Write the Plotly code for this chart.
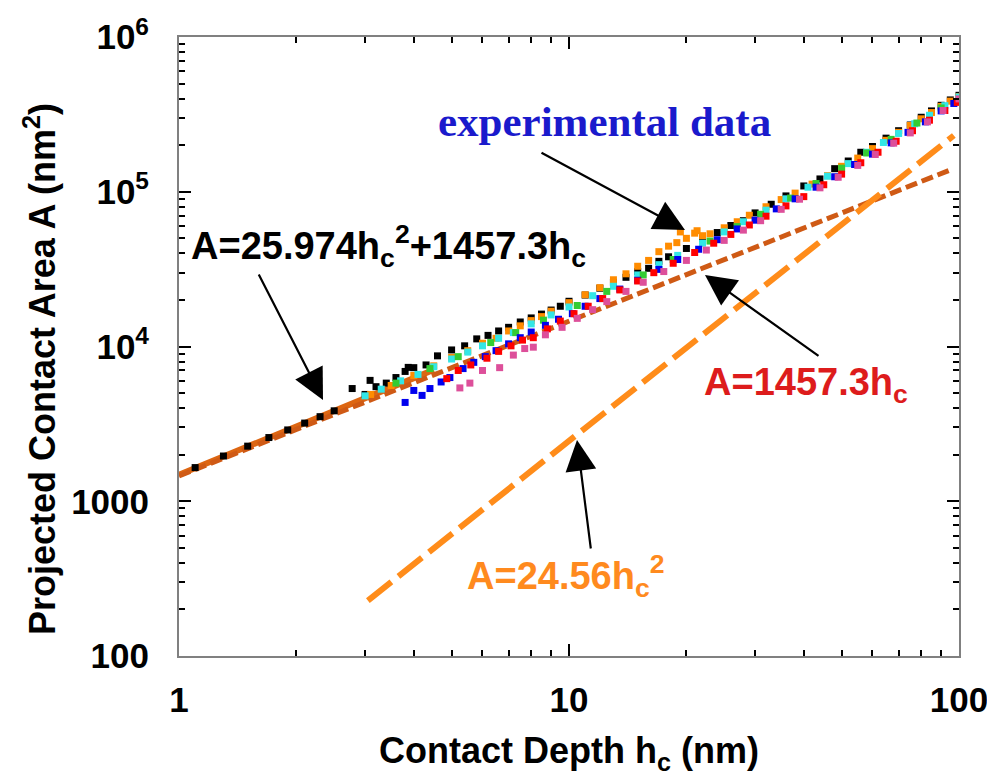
import plotly.graph_objects as go

# ---------------- data ----------------
# fitted curve A = 25.974 hc^2 + 1457.3 hc (visible part, below the data cloud)
fit_h = [1, 1.5, 2, 2.5, 3, 3.5, 4, 4.5]
fit_A = [1483, 2244, 3018, 3806, 4606, 5419, 6245, 7084]
# A = 1457.3 hc
lin_h = [1, 95]
lin_A = [1457, 138400]
# A = 24.56 hc^2
quad_h = [3.05, 97]
quad_A = [228, 231000]

# experimental data sets
bk_h = [1.1, 1.3, 1.5, 1.7, 1.9, 2.1, 2.3, 2.5, 2.78, 3.0, 3.09, 3.2, 3.4, 3.6, 3.8, 3.87, 4.0,
        4.3, 4.6, 5.0, 5.4, 5.8, 6.2, 6.6, 7.0, 7.5, 8.0, 8.5, 9.0, 9.5, 10, 11, 12, 13, 14, 15, 16,
        17, 18, 20, 22, 24, 26, 28, 30, 33, 36, 40, 44, 48, 52, 56, 60, 65, 70, 75, 80, 85, 90, 95, 100]
bk_A = [1650, 1960, 2270, 2580, 2890, 3200, 3520, 3840, 5350, 4900, 6040, 5500, 5800, 6300, 6900, 7330, 7300,
        7600, 8700, 9500, 10100, 11200, 11800, 12600, 13300, 14400, 15300, 16200, 17200, 18200, 19600, 21500,
        23800, 26000, 28000, 30500, 32000, 35500, 38000, 43000, 50000, 54500, 60500, 65000, 73000, 83000, 94000,
        109000, 121000, 141000, 158000, 180000, 196000, 222000, 248000, 270000, 303000, 333000, 362000, 392000, 420000]

or_h = [3.1, 3.5, 4.0, 4.5, 5.0, 5.5, 6.0, 6.5, 7.0, 7.5, 8.0, 8.5, 9.0, 10, 11, 12, 13, 14, 15, 16,
        17, 18, 18.9, 19.3, 20, 21, 21.3, 22, 23, 25, 27, 29, 32, 35, 38, 42, 46, 50, 55, 60,
        65, 70, 75, 80, 85, 90, 95, 100]
or_A = [4900, 5600, 6500, 7500, 8500, 9400, 10500, 11300, 12600, 13600, 14700, 15600, 16900, 19200, 21600,
        24000, 27000, 29500, 33000, 36000, 41000, 44500, 46900, 55000, 50000, 54000, 56000, 52000, 53500, 58500,
        64000, 70500, 80000, 89000, 98000, 112000, 127000, 146000, 165000, 190000, 215000, 242000, 268000,
        296000, 325000, 356000, 385000, 412000]

cy_h = [3.0, 3.3, 3.7, 4.1, 4.5, 5.0, 5.5, 6.0, 6.6, 7.2, 8.0, 9.0, 10, 11.5, 13, 15, 17, 19, 22, 25,
        28, 32, 36, 41, 46, 52, 58, 64, 70, 77, 84, 92, 100]
cy_A = [4800, 5300, 6000, 6600, 7400, 8300, 9200, 10100, 11300, 12300, 14000, 16000, 18000, 21300, 24500,
        29000, 33800, 38800, 46500, 55000, 64000, 76000, 90000, 107000, 126000, 152000, 180000, 208000,
        238000, 275000, 312000, 360000, 410000]

gr_h = [3.6, 4.4, 5.2, 6.3, 7.3, 8.6, 10.5, 12.5, 15.5, 18.5, 23, 27, 31, 37, 43, 50, 58, 67, 78, 90]
gr_A = [5800, 7200, 8600, 10600, 12300, 14800, 18400, 22700, 29000, 36500, 48000, 59500, 71500, 91000,
        113000, 142000, 178000, 218000, 278000, 348000]

bl_h = [3.8, 4.0, 4.2, 4.4, 4.7, 4.95, 5.35, 5.7, 6.1, 6.5, 7.0, 7.5, 8.0, 8.7, 9.4, 10.2, 11, 12, 13.5, 15,
        17, 19, 21.5, 24, 27, 30, 34, 38, 43, 48, 54, 60, 67, 74, 82, 90, 97]
bl_A = [4350, 5200, 4830, 5350, 5900, 6300, 7200, 7900, 8600, 9400, 10400, 11400, 12400, 13700, 15000, 16300,
        18200, 20400, 23500, 26800, 31500, 36500, 42500, 49000, 57500, 65500, 77500, 90000, 107000, 125000,
        150000, 175000, 207000, 242000, 283000, 333000, 372000]

rd_h = [4.86, 5.2, 5.6, 6.16, 6.6, 7.1, 7.6, 8.1, 8.8, 9.5, 10.3, 11.2, 12.2, 13.5, 15, 16.5, 18.5, 21, 23.5, 26,
        29, 32, 36, 40, 45, 50, 56, 62, 69, 76, 84, 92, 99]
rd_A = [6200, 7000, 7600, 8400, 9300, 10100, 11000, 11400, 13000, 14600, 16300, 18200, 20400, 23200, 26500,
        30000, 34500, 40500, 46500, 53000, 61000, 69500, 81000, 93000, 111000, 130000, 154000, 180000, 212000,
        248000, 290000, 335000, 378000]

pk_h = [5.25, 5.57, 6.0, 6.64, 7.2, 7.7, 8.1, 8.7, 9.6, 10.5, 11.5, 12.5, 14, 15.5, 17.5, 20, 22.5, 25, 28, 31,
        35, 39, 44, 49, 55, 61, 68, 75, 83, 91, 100]
pk_A = [5400, 5800, 7000, 7300, 8800, 9700, 9900, 11900, 13300, 15200, 17300, 19500, 22700, 26000, 30500,
        36000, 42000, 48500, 56500, 65000, 77000, 89500, 106000, 124000, 148000, 174000, 206000, 240000,
        283000, 335000, 398000]

x_tickvals = [1, 10, 100]
x_ticktext = ["1", "10", "100"]
y_tickvals = [100, 1000, 1e4, 1e5, 1e6]
y_ticktext = ["100", "1000", "10<sup>4</sup>", "10<sup>5</sup>", "10<sup>6</sup>"]

# ---------------- figure ----------------
fig = go.Figure()

fig.add_trace(go.Scatter(x=fit_h, y=fit_A, mode="lines",
                         line=dict(color="#dd6612", width=6), hoverinfo="skip"))
fig.add_trace(go.Scatter(x=lin_h, y=lin_A, mode="lines",
                         line=dict(color="#cf5a15", width=5, dash="12px,5px"), hoverinfo="skip"))
fig.add_trace(go.Scatter(x=quad_h, y=quad_A, mode="lines",
                         line=dict(color="#ff8c1a", width=6, dash="30px,9px"), hoverinfo="skip"))

series = [
    (bk_h, bk_A, "#000000"),
    (or_h, or_A, "#ff8c00"),
    (cy_h, cy_A, "#33e6e6"),
    (gr_h, gr_A, "#33cc33"),
    (bl_h, bl_A, "#0000ee"),
    (rd_h, rd_A, "#ff0000"),
    (pk_h, pk_A, "#dd4f9a"),
]
for hx, ay_, col in series:
    fig.add_trace(go.Scatter(x=hx, y=ay_, mode="markers",
                             marker=dict(symbol="square", size=7, color=col, line=dict(width=0))))

FONT = "Liberation Sans, Arial, sans-serif"

axis_common = dict(
    type="log", showgrid=False, zeroline=False, automargin=False,
    showline=True, linecolor="#808080", linewidth=2, mirror="allticks",
    ticks="inside", ticklen=12, tickwidth=2, tickcolor="black",
    tickmode="array",
    tickfont=dict(family=FONT, size=35, color="black", weight="bold"),
    minor=dict(ticks="inside", ticklen=6, tickwidth=1.5, tickcolor="black", dtick="D1", showgrid=False),
)

# the page body adds an 8px offset, so the figure is 8px smaller and margins shifted
fig.update_layout(
    width=987, height=774, autosize=False,
    margin=dict(l=171, r=36, t=29, b=126),
    paper_bgcolor="white", plot_bgcolor="white",
    showlegend=False,
    xaxis=dict(axis_common, range=[0, 2], tickvals=x_tickvals, ticktext=x_ticktext,
               ticklabelstandoff=12,
               title=dict(text="Contact Depth h<sub>c</sub> (nm)", standoff=20,
                          font=dict(family=FONT, size=36, color="black", weight="bold"))),
    yaxis=dict(axis_common, range=[2, 6], tickvals=y_tickvals, ticktext=y_ticktext,
               ticklabelstandoff=21),
)


def px(xp):
    return (xp - 179) / 780.0


def py(yp):
    return (656 - yp) / 619.0


ann_font = dict(family=FONT, size=38, weight="bold")

annotations = [
    # y-axis title
    dict(text="Projected Contact Area A (nm<sup>2</sup>)", x=px(40), y=py(369), xref="paper", yref="paper",
         showarrow=False, textangle=-90, xanchor="center", yanchor="middle",
         font=dict(family=FONT, size=36, color="black", weight="bold")),
    dict(text="experimental data", x=px(436), y=py(121), xref="paper", yref="paper",
         showarrow=False, xanchor="left", yanchor="middle",
         font=dict(family="Liberation Serif, Times New Roman, serif", size=43, color="#1a1acc", weight="bold")),
    dict(text="A=25.974h<sub>c</sub><sup>2</sup>+1457.3h<sub>c</sub>", x=px(189), y=py(246),
         xref="paper", yref="paper", showarrow=False, xanchor="left", yanchor="middle",
         font=dict(ann_font, color="black")),
    dict(text="A=1457.3h<sub>c</sub>", x=px(702), y=py(385), xref="paper", yref="paper",
         showarrow=False, xanchor="left", yanchor="middle", font=dict(ann_font, color="#dd1c1c")),
    dict(text="A=24.56h<sub>c</sub><sup>2</sup>", x=px(465), y=py(576), xref="paper", yref="paper",
         showarrow=False, xanchor="left", yanchor="middle", font=dict(ann_font, color="#ff8a1e")),
]

arrows = [((685, 230), (-145, -78)), ((323, 400), (-65, -127)), ((705, 275), (115, 82)), ((577, 440), (14, 110))]
for (hx_, hy_), (dx, dy) in arrows:
    annotations.append(dict(text="", x=px(hx_), y=py(hy_), xref="paper", yref="paper",
                            showarrow=True, ax=dx, ay=dy, arrowhead=2, arrowsize=2.8, arrowwidth=2.2,
                            arrowcolor="black", standoff=0, startstandoff=0))

fig.update_layout(annotations=annotations)

fig.write_html("out.html")
